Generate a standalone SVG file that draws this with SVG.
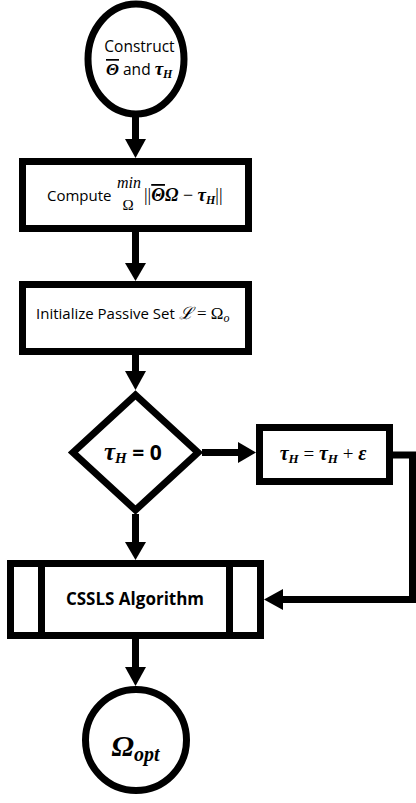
<svg xmlns="http://www.w3.org/2000/svg" width="416" height="803" viewBox="0 0 416 803">
<style>
.sh{fill:#fff;stroke:#000;stroke-width:7;stroke-linejoin:miter}
.ln{fill:none;stroke:#000;stroke-width:7}
.hd{fill:#000;stroke:none}
.sans{font-family:"Open Sans","Liberation Sans",sans-serif;fill:#000}
.m{font-family:"Liberation Serif","DejaVu Serif",serif;fill:#000}
.mb{font-family:"Liberation Serif","DejaVu Serif",serif;font-weight:bold;font-style:italic;fill:#000}
</style>
<rect width="416" height="803" fill="#fff"/>
<g id="connectors">
  <line class="ln" x1="135.5" y1="112" x2="135.5" y2="141"/>
  <polygon class="hd" points="125,139 146,139 135.5,158"/>
  <line class="ln" x1="135.5" y1="232" x2="135.5" y2="265"/>
  <polygon class="hd" points="125,263 146,263 135.5,281"/>
  <line class="ln" x1="135.5" y1="355" x2="135.5" y2="373"/>
  <polygon class="hd" points="125,371 146,371 135.5,390"/>
  <line class="ln" x1="202" y1="452.5" x2="240" y2="452.5"/>
  <polygon class="hd" points="238,442 238,463 256,452.5"/>
  <line class="ln" x1="135.5" y1="514" x2="135.5" y2="544"/>
  <polygon class="hd" points="125,542 146,542 135.5,560"/>
  <polyline class="ln" points="393,455 412.5,455 412.5,599.5 281,599.5"/>
  <polygon class="hd" points="283,589 283,610 264,599.5"/>
  <line class="ln" x1="135.5" y1="639" x2="135.5" y2="669"/>
  <polygon class="hd" points="125,667 146,667 135.5,686"/>
</g>
<g id="start">
  <ellipse class="sh" cx="136" cy="59" rx="48" ry="55"/>
  <text class="sans" x="139.5" y="52" font-size="15.5" text-anchor="middle">Construct</text>
  <text x="106" y="75" font-size="15.5"><tspan class="mb" font-size="17" text-decoration="overline" font-style="normal">Θ</tspan><tspan class="sans"> and </tspan><tspan class="mb" font-size="19">τ</tspan><tspan class="mb" font-size="12" dy="3">H</tspan></text>
</g>
<g id="compute">
  <rect class="sh" x="22.5" y="161.5" width="226" height="67"/>
  <text class="sans" x="47" y="201" font-size="15">Compute</text>
  <text class="m" x="129" y="188" font-size="16" font-style="italic" text-anchor="middle">min</text>
  <text class="m" x="128" y="210" font-size="15" text-anchor="middle">Ω</text>
  <text x="144" y="201" font-size="18"><tspan class="m">||</tspan><tspan class="mb" font-style="normal" text-decoration="overline">Θ</tspan><tspan class="mb" font-style="normal">Ω</tspan><tspan class="m"> − </tspan><tspan class="mb" font-size="19">τ</tspan><tspan class="mb" font-size="12" dy="3">H</tspan><tspan class="m" dy="-3">||</tspan></text>
</g>
<g id="init">
  <rect class="sh" x="22.5" y="284.5" width="226" height="67"/>
  <text x="36" y="319" font-size="15"><tspan class="sans">Initialize Passive Set </tspan><tspan class="m" font-size="17" font-style="italic">ℒ</tspan><tspan class="m" font-size="17"> = Ω</tspan><tspan class="m" font-style="italic" font-size="12" dy="3">o</tspan></text>
</g>
<g id="decision">
  <path class="sh" d="M135.5,395 L198,452.5 L135.5,510 L73,452.5 Z"/>
  <text x="104" y="460" font-size="21"><tspan class="mb" font-size="25">τ</tspan><tspan class="mb" font-size="15" dy="3">H</tspan><tspan class="sans" font-weight="bold" dy="-3"> = 0</tspan></text>
</g>
<g id="update">
  <rect class="sh" x="259.5" y="427.5" width="130" height="54"/>
  <text x="323" y="460" font-size="19" text-anchor="middle"><tspan class="mb" font-size="20">τ</tspan><tspan class="mb" font-size="13" dy="3">H</tspan><tspan class="m" dy="-3"> = </tspan><tspan class="mb" font-size="20">τ</tspan><tspan class="mb" font-size="13" dy="3">H</tspan><tspan class="m" dy="-3"> + </tspan><tspan class="mb" font-size="20">ε</tspan></text>
</g>
<g id="cssls">
  <rect class="sh" x="10.5" y="563.5" width="250" height="72"/>
  <line class="ln" x1="41.5" y1="563.5" x2="41.5" y2="635.5"/>
  <line class="ln" x1="229.5" y1="563.5" x2="229.5" y2="635.5"/>
  <text class="sans" x="135" y="605" font-size="17" font-weight="bold" text-anchor="middle">CSSLS Algorithm</text>
</g>
<g id="end">
  <circle class="sh" cx="136" cy="740" r="50.5"/>
  <text x="135.5" y="756" text-anchor="middle"><tspan class="mb" font-size="30">Ω</tspan><tspan class="mb" font-size="20" dy="5">opt</tspan></text>
</g>
</svg>
